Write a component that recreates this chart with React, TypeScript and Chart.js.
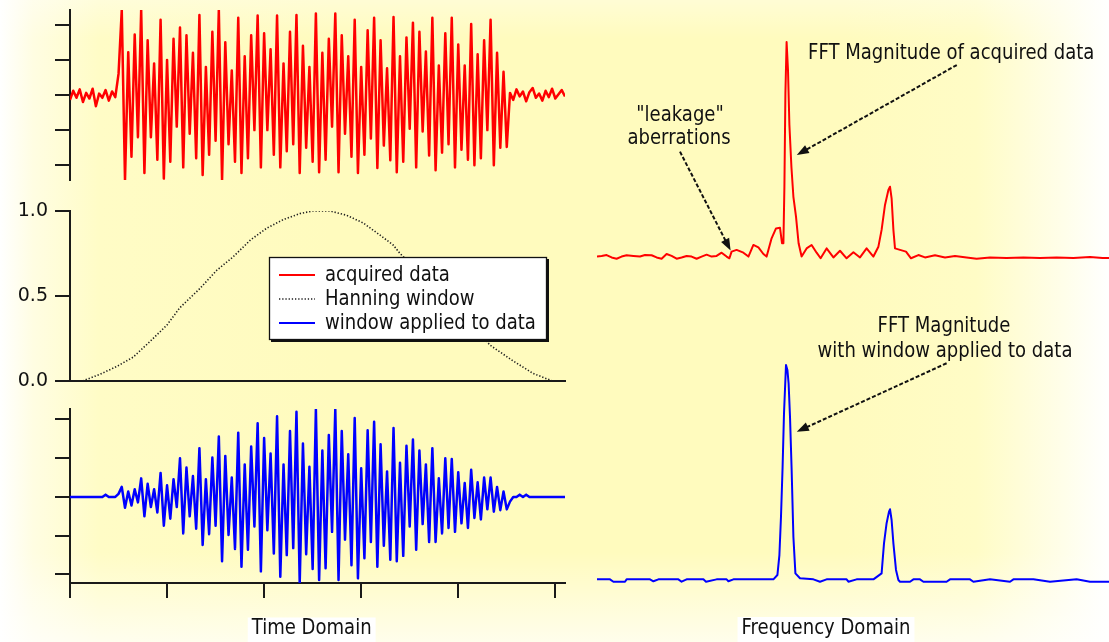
import React, { useEffect, useRef } from "react";
import { Chart, registerables } from "chart.js";

Chart.register(...registerables);

// ---------------- data ----------------
const TIME_STEP = 1 / 30; // time units per sample
const TIME_MAX = 5.1;

// acquired data (red) : one value per sample
const ACQUIRED = [
  -0.07, 0.06, -0.04, 0.08, -0.1, 0.03, -0.05, 0.09, -0.16, 0.02, -0.04, 0.07, -0.08, 0.05, -0.03,
  0.3,
  1.21, -1.21, 0.61, -0.88, 0.86, -0.6,
  1.21, -1.11, 0.78, -0.6, 0.45, -0.92,
  1.07, -1.19, 0.5, -0.95, 0.8, -0.45,
  0.96, -1.03, 0.85, -0.55, 0.6, -0.9,
  1.14, -1.14, 0.4, -0.85, 0.9, -0.65,
  1.21, -1.21, 0.75, -0.7, 0.35, -0.95,
  1.1, -1.11, 0.55, -0.9, 0.85, -0.5,
  1.13, -1.03, 0.88, -0.5, 0.65, -0.85,
  1.13, -1.03, 0.45, -0.8, 0.9, -0.7,
  1.14, -1.11, 0.7, -0.75, 0.4, -0.95,
  1.16, -1.1, 0.6, -0.92, 0.8, -0.45,
  1.16, -1.1, 0.85, -0.55, 0.55, -0.88,
  1.07, -1.11, 0.4, -0.85, 0.92, -0.62,
  1.1, -1.04, 0.78, -0.72, 0.38, -0.93,
  1.11, -1.1, 0.55, -0.95, 0.82, -0.48,
  1.03, -1.03, 0.9, -0.52, 0.62, -0.86,
  1.1, -1.07, 0.42, -0.82, 0.88, -0.7,
  1.1, -1.03, 0.72, -0.78, 0.42, -0.92,
  1.01, -1.0, 0.58, -0.9, 0.78, -0.5,
  1.07, -1.0, 0.6, -0.75, 0.33, -0.74,
  0.03, -0.07, 0.08, -0.02, 0.05, -0.09, 0.04, 0.1, -0.04, 0.02, -0.08, 0.06, -0.03, 0.09, -0.05, 0.01, 0.07, -0.02,
];

// window applied to data (blue)
const WINDOWED = [
  0, 0, 0, 0, 0, 0, 0, 0, 0, 0, 0, 0.03, 0, 0, 0,
  0.04,
  0.13, -0.14, 0.07, -0.11, 0.1, -0.07,
  0.24, -0.25, 0.17, -0.13, 0.1, -0.2,
  0.31, -0.37, 0.15, -0.28, 0.23, -0.13,
  0.5, -0.47, 0.38, -0.25, 0.27, -0.41,
  0.63, -0.62, 0.23, -0.48, 0.51, -0.37,
  0.78, -0.83, 0.53, -0.49, 0.25, -0.67,
  0.83, -0.9, 0.42, -0.68, 0.65, -0.38,
  0.95, -0.96, 0.76, -0.43, 0.56, -0.73,
  1.04, -1.03, 0.42, -0.75, 0.85, -0.66,
  1.1, -1.11, 0.69, -0.74, 0.39, -0.93,
  1.13, -1.07, 0.6, -0.92, 0.8, -0.45,
  1.13, -1.07, 0.85, -0.55, 0.55, -0.88,
  1.02, -1.05, 0.37, -0.79, 0.86, -0.58,
  0.97, -0.9, 0.68, -0.63, 0.33, -0.81,
  0.89, -0.83, 0.44, -0.76, 0.66, -0.38,
  0.74, -0.68, 0.6, -0.35, 0.42, -0.58,
  0.63, -0.58, 0.24, -0.47, 0.5, -0.4,
  0.49, -0.45, 0.32, -0.34, 0.18, -0.4,
  0.35, -0.27, 0.19, -0.29, 0.25, -0.16,
  0.25, -0.19, 0.13, -0.17, 0.07, -0.16,
  -0.06, 0, 0, 0.03, 0, 0.03, 0, 0, 0, 0, 0, 0, 0, 0, 0, 0, 0, 0,
];

// Hanning window (dotted)
const HANN_T = [0.13, 0.31, 0.48, 0.65, 0.82, 1.0, 1.13, 1.34, 1.51, 1.68, 1.86, 2.03, 2.2, 2.37, 2.5, 2.68, 2.85, 3.02, 3.19, 3.33, 3.4, 3.71, 3.92, 4.12, 4.33, 4.56, 4.77, 4.97];
const HANN_W = [0.0, 0.04, 0.085, 0.14, 0.23, 0.33, 0.43, 0.545, 0.65, 0.73, 0.83, 0.9, 0.95, 0.985, 1.0, 1.0, 0.975, 0.93, 0.86, 0.8, 0.75, 0.58, 0.47, 0.34, 0.21, 0.12, 0.045, 0.0];
const HANN_TICKS_STEP = 0.5;

// FFT magnitude of acquired data (red)
const FFT_MAX_BIN = 256;
const FFT_RAW_F = [0, 2.3, 4.8, 7.3, 9.8, 12.3, 14.8, 18.2, 21.5, 24, 27.3, 29.8, 32.3, 34.8, 37.3, 39.8, 42.3, 44.8, 47.3, 49.8, 52.3, 54.8, 57.3, 59.8, 62.3, 64.8, 66.2, 67.3, 69.8, 73.2, 75.7, 78.2, 80.7, 83.2, 84.8, 87.3, 89.5, 91.5, 92.5, 93.2, 93.7, 94.2, 94.8, 95.5, 96.2, 97.2, 98.2, 99.5, 100.8, 102.3, 104.8, 107.3, 109.8, 111.8, 114.8, 118.2, 121.5, 124.8, 128.2, 131.5, 134.8, 138.2, 140.7, 142.3, 144, 145.7, 146.5, 147.3, 148.2, 149, 151.5, 154.5, 157, 160.7, 164, 169, 174, 179, 184.8, 189.8, 196.5, 204.8, 213.2, 221.5, 229.8, 238.2, 246.5, 252.8, 256];
const FFT_RAW_MAG = [0.002, 0.005, 0.009, -0.002, -0.008, 0.002, 0.008, 0.005, 0.002, 0.009, 0.008, -0.002, -0.008, 0.014, 0.005, -0.008, -0.002, 0.005, 0.002, -0.008, 0.002, 0.011, 0.002, 0.005, 0.02, 0.002, -0.006, 0.025, 0.033, 0.02, 0.002, 0.056, 0.045, 0.014, 0.002, 0.087, 0.133, 0.136, 0.064, 0.064, 0.327, 0.761, 1.0, 0.87, 0.614, 0.42, 0.28, 0.188, 0.064, 0.002, 0.04, 0.056, 0.02, -0.006, 0.04, -0.002, 0.029, -0.006, 0.022, -0.002, 0.04, 0.002, 0.048, 0.126, 0.242, 0.312, 0.327, 0.273, 0.126, 0.04, 0.033, 0.025, -0.006, 0.009, -0.002, 0.008, -0.002, 0.005, -0.002, -0.008, -0.002, -0.005, -0.002, -0.005, -0.002, -0.005, 0, -0.005, -0.005];

// FFT magnitude with window applied (blue)
const FFT_WIN_F = [0, 6.5, 8.2, 14, 14.8, 26.5, 28.2, 30.7, 40.7, 42.3, 44.8, 53.2, 54.5, 59.8, 64.8, 65.7, 68.2, 88.2, 90.2, 91.2, 92, 92.8, 93.5, 94.5, 95.2, 95.8, 96.5, 97.3, 98.2, 99.2, 101.5, 108.2, 111.5, 114.8, 124.8, 125.7, 129.8, 138.2, 142.3, 143.5, 144.8, 146, 146.5, 147.3, 148.2, 149.5, 150.7, 151.5, 156.5, 158.2, 161.5, 163.2, 174.8, 176.5, 186.5, 188.2, 196.5, 206.5, 208.2, 218.2, 226.5, 239.8, 246.5, 252.8, 256];
const FFT_WIN_MAG = [0.003, 0.003, -0.008, -0.008, 0.003, 0.003, -0.006, 0.003, 0.003, -0.008, 0.003, 0.003, -0.008, 0.003, 0.003, -0.006, 0.003, 0.003, 0.023, 0.116, 0.295, 0.527, 0.775, 1.0, 0.977, 0.915, 0.76, 0.519, 0.2, 0.031, 0.008, 0.003, -0.008, 0.003, 0.003, -0.008, 0.003, 0.003, 0.031, 0.17, 0.264, 0.318, 0.329, 0.279, 0.17, 0.047, 0, -0.008, -0.008, 0.003, 0.003, -0.008, -0.008, 0.003, 0.003, -0.008, 0.003, -0.008, 0.003, 0.003, -0.008, 0.003, -0.008, -0.008, -0.008];

const LEGEND_LABELS = ["acquired data", "Hanning window", "window applied to data"];
const TIME_TITLE = "Time Domain";
const FREQ_TITLE = "Frequency Domain";

// annotations, in data coordinates of the FFT plots: [text, freq, magnitude, align]
const RAW_NOTES: [string, number, number, CanvasTextAlign][] = [
  ["FFT Magnitude of acquired data", 105.5, 0.949, "left"],
  ['"leakage"', 41.5, 0.66, "center"],
  ["aberrations", 41, 0.553, "center"],
];
const RAW_ARROWS = [
  [179.9, 0.893, 99.9, 0.474],
  [41.5, 0.49, 66.8, 0.03],
];
const WIN_NOTES: [string, number, number, CanvasTextAlign][] = [
  ["FFT Magnitude", 173.5, 1.178, "center"],
  ["with window applied to data", 174, 1.065, "center"],
];
const WIN_ARROWS = [[174.8, 1.008, 99.9, 0.69]];

// ---------------- layout & style ----------------
const W = 1109;
const H = 642;
const FONT_FAMILY = "'DejaVu Sans', 'Liberation Sans', sans-serif";
const TEXT_SIZE = 22;
const TEXT_COLOR = "#111111";
const AXIS_COLOR = "#1a1a1a";
const RED = "#ff0000";
const BLUE = "#0000ff";
const DOT_COLOR = "#1e1e1e";
const SQUEEZE = 0.82;
const TICK_LEN = 15;
const BG =
  "linear-gradient(to bottom, rgba(255,255,255,0.35) 0%, rgba(255,255,255,0) 6%, rgba(255,255,255,0) 86%, rgba(255,255,255,0.7) 100%)," +
  "linear-gradient(to right, #ffffff 0%, #fffde2 3%, #fffcc6 9%, #fffbbe 30%, #fffbbe 76%, #fffcc6 88%, #fffeea 96%, #ffffff 100%)";

const STYLE_RED = { color: RED, width: 2.5, dash: [] as number[] };
const STYLE_DOT = { color: DOT_COLOR, width: 1.6, dash: [1.3, 1.9] };
const STYLE_BLUE = { color: BLUE, width: 2.5, dash: [] as number[] };
const STYLE_RED_FFT = { color: RED, width: 2, dash: [] as number[] };
const STYLE_BLUE_FFT = { color: BLUE, width: 2, dash: [] as number[] };

Chart.defaults.font.family = FONT_FAMILY;
Chart.defaults.color = TEXT_COLOR;

// ---------------- helpers ----------------
const timeSeries = (ys: number[]) => ys.map((v, i) => ({ x: i * TIME_STEP, y: v }));
const pairs = (xs: number[], ys: number[]) => xs.map((v, i) => ({ x: v, y: ys[i] }));

const lineDs = (label: string, data: any[], st: any) => ({
  label,
  data,
  borderColor: st.color,
  borderWidth: st.width,
  borderDash: st.dash,
  borderJoinStyle: "round",
  pointRadius: 0,
  tension: 0,
  fill: false,
});

const tickGrid = (len: number) => ({
  display: true,
  drawOnChartArea: false,
  drawTicks: len > 0,
  tickLength: len,
  color: AXIS_COLOR,
  lineWidth: 2,
});
const axisBorder = { display: true, color: AXIS_COLOR, width: 2 };

function drawText(ctx: CanvasRenderingContext2D, text: string, x: number, y: number, align: CanvasTextAlign) {
  ctx.save();
  ctx.font = `${TEXT_SIZE}px ${FONT_FAMILY}`;
  ctx.fillStyle = TEXT_COLOR;
  ctx.textAlign = align;
  ctx.textBaseline = "middle";
  ctx.translate(x, y);
  ctx.scale(SQUEEZE, 1);
  ctx.fillText(text, 0, 0);
  ctx.restore();
}

function drawArrow(ctx: CanvasRenderingContext2D, x1: number, y1: number, x2: number, y2: number) {
  const ang = Math.atan2(y2 - y1, x2 - x1);
  const head = 12;
  const half = 4.5;
  const c = Math.cos(ang);
  const s = Math.sin(ang);
  ctx.save();
  ctx.strokeStyle = TEXT_COLOR;
  ctx.lineWidth = 2;
  ctx.setLineDash([4, 2]);
  ctx.beginPath();
  ctx.moveTo(x1, y1);
  ctx.lineTo(x2 - head * 0.8 * c, y2 - head * 0.8 * s);
  ctx.stroke();
  ctx.setLineDash([]);
  ctx.fillStyle = TEXT_COLOR;
  ctx.beginPath();
  ctx.moveTo(x2, y2);
  ctx.lineTo(x2 - head * c + half * s, y2 - head * s - half * c);
  ctx.lineTo(x2 - head * c - half * s, y2 - head * s + half * c);
  ctx.closePath();
  ctx.fill();
  ctx.restore();
}

const notesPlugin = (id: string, notes: any[], arrows: number[][]) => ({
  id,
  afterDraw(chart: any) {
    const { ctx } = chart;
    const { x, y } = chart.scales;
    arrows.forEach((a) =>
      drawArrow(ctx, x.getPixelForValue(a[0]), y.getPixelForValue(a[1]), x.getPixelForValue(a[2]), y.getPixelForValue(a[3]))
    );
    notes.forEach((n) => drawText(ctx, n[0], x.getPixelForValue(n[1]), y.getPixelForValue(n[2]), n[3]));
  },
});

const axisTitlePlugin = (id: string, text: string, xValue: number, fromBottom: number) => ({
  id,
  afterDraw(chart: any) {
    const { ctx } = chart;
    const cx = chart.scales.x.getPixelForValue(xValue);
    const cy = chart.height - fromBottom;
    ctx.save();
    ctx.font = `${TEXT_SIZE}px ${FONT_FAMILY}`;
    const w = ctx.measureText(text).width * SQUEEZE;
    ctx.fillStyle = "#ffffff";
    const top = cy - 11;
    ctx.fillRect(cx - w / 2 - 4, top, w + 8, chart.height - top);
    ctx.restore();
    drawText(ctx, text, cx, cy, "center");
  },
});

// legend box anchored in the Hanning plot's data coordinates
const LEGEND_BOX = { t0: 2.05, w0: 0.729, t1: 4.915, w1: 0.241 };
const legendPlugin = {
  id: "boxLegend",
  afterDraw(chart: any) {
    const { ctx } = chart;
    const { x, y } = chart.scales;
    const l = Math.round(x.getPixelForValue(LEGEND_BOX.t0));
    const r = Math.round(x.getPixelForValue(LEGEND_BOX.t1));
    const t = Math.round(y.getPixelForValue(LEGEND_BOX.w0));
    const b = Math.round(y.getPixelForValue(LEGEND_BOX.w1));
    const w = r - l;
    const h = b - t;
    ctx.save();
    ctx.fillStyle = TEXT_COLOR;
    ctx.fillRect(l + 2, t + 2, w, h);
    ctx.fillStyle = "#ffffff";
    ctx.fillRect(l, t, w, h);
    ctx.strokeStyle = TEXT_COLOR;
    ctx.lineWidth = 1.3;
    ctx.strokeRect(l + 0.5, t + 0.5, w - 1, h - 1);
    const styles = [
      { ...STYLE_RED, width: 2 },
      STYLE_DOT,
      { ...STYLE_BLUE, width: 2 },
    ];
    LEGEND_LABELS.forEach((label, i) => {
      const yy = t + 18 + 24 * i;
      const st = styles[i];
      ctx.save();
      ctx.strokeStyle = st.color;
      ctx.lineWidth = st.width;
      ctx.setLineDash(st.dash);
      ctx.beginPath();
      ctx.moveTo(l + 10, yy);
      ctx.lineTo(l + 46, yy);
      ctx.stroke();
      ctx.restore();
      drawText(ctx, label, l + 56, yy, "left");
    });
    ctx.restore();
  },
};

const baseOptions = (padding: any, scales: any) => ({
  responsive: false,
  animation: false,
  events: [],
  layout: { padding },
  plugins: { legend: { display: false }, tooltip: { enabled: false }, title: { display: false } },
  scales,
});

const hiddenTimeX = { type: "linear", min: 0, max: TIME_MAX, display: false };

function acquiredConfig() {
  return {
    type: "line",
    data: { datasets: [lineDs(LEGEND_LABELS[0], timeSeries(ACQUIRED), STYLE_RED)] },
    options: baseOptions(
      { left: 70 - TICK_LEN, right: W - 565, top: 10, bottom: H - 180 },
      {
        x: hiddenTimeX,
        y: {
          type: "linear",
          min: -1.21,
          max: 1.21,
          ticks: { display: false, stepSize: 0.5, includeBounds: false },
          grid: tickGrid(TICK_LEN),
          border: axisBorder,
          afterFit: (s: any) => {
            s.width = TICK_LEN;
          },
        },
      }
    ),
  };
}

function hannConfig() {
  return {
    type: "line",
    data: { datasets: [lineDs(LEGEND_LABELS[1], pairs(HANN_T, HANN_W), STYLE_DOT)] },
    options: baseOptions(
      { left: 0, right: W - 565, top: 211, bottom: H - 381 },
      {
        x: {
          type: "linear",
          min: 0,
          max: TIME_MAX,
          ticks: { display: false },
          grid: tickGrid(0),
          border: axisBorder,
          afterFit: (s: any) => {
            s.height = 0;
          },
        },
        y: {
          type: "linear",
          min: 0,
          max: 1,
          ticks: {
            stepSize: HANN_TICKS_STEP,
            padding: 7,
            color: TEXT_COLOR,
            font: { size: 19, family: FONT_FAMILY },
            callback: (v: any) => Number(v).toFixed(1),
          },
          grid: tickGrid(TICK_LEN),
          border: axisBorder,
          afterFit: (s: any) => {
            s.width = 70;
          },
        },
      }
    ),
    plugins: [legendPlugin],
  };
}

function windowedConfig() {
  return {
    type: "line",
    data: { datasets: [lineDs(LEGEND_LABELS[2], timeSeries(WINDOWED), STYLE_BLUE)] },
    options: baseOptions(
      { left: 70 - TICK_LEN, right: W - 565, top: 409, bottom: H - 583 - TICK_LEN },
      {
        x: {
          type: "linear",
          min: 0,
          max: TIME_MAX,
          ticks: { display: false, stepSize: 1, includeBounds: false },
          grid: tickGrid(TICK_LEN),
          border: axisBorder,
          afterFit: (s: any) => {
            s.height = TICK_LEN;
          },
        },
        y: {
          type: "linear",
          min: -1.11,
          max: 1.135,
          ticks: { display: false, stepSize: 0.5, includeBounds: false },
          grid: tickGrid(TICK_LEN),
          border: axisBorder,
          afterFit: (s: any) => {
            s.width = TICK_LEN;
          },
        },
      }
    ),
    plugins: [axisTitlePlugin("timeTitle", TIME_TITLE, 2.49, 13.5)],
  };
}

function fftConfig(label: string, xs: number[], ys: number[], st: any, top: number, bottom: number, plugins: any[]) {
  return {
    type: "line",
    data: { datasets: [lineDs(label, pairs(xs, ys), st)] },
    options: baseOptions(
      { left: 597, right: 0, top, bottom: H - bottom },
      {
        x: { type: "linear", min: 0, max: FFT_MAX_BIN, display: false },
        y: { type: "linear", min: -0.05, max: 1.05, display: false },
      }
    ),
    plugins,
  };
}

export default function App() {
  const canvases = useRef<(HTMLCanvasElement | null)[]>([]);

  useEffect(() => {
    const configs = [
      acquiredConfig(),
      hannConfig(),
      windowedConfig(),
      fftConfig("FFT magnitude of acquired data", FFT_RAW_F, FFT_RAW_MAG, STYLE_RED_FFT, 31.25, 267.75, [
        notesPlugin("rawNotes", RAW_NOTES, RAW_ARROWS),
      ]),
      fftConfig("FFT magnitude with window applied", FFT_WIN_F, FFT_WIN_MAG, STYLE_BLUE_FFT, 354.25, 590.75, [
        notesPlugin("winNotes", WIN_NOTES, WIN_ARROWS),
        axisTitlePlugin("freqTitle", FREQ_TITLE, 114.5, 14),
      ]),
    ];
    const charts = configs.map(
      (cfg, i) => new Chart(canvases.current[i] as HTMLCanvasElement, cfg as any)
    );
    return () => charts.forEach((c) => c.destroy());
  }, []);

  return (
    <div
      style={{
        position: "absolute",
        left: 0,
        top: 0,
        width: W,
        height: H,
        overflow: "hidden",
        background: BG,
      }}
    >
      {[0, 1, 2, 3, 4].map((i) => (
        <canvas
          key={i}
          ref={(el) => {
            canvases.current[i] = el;
          }}
          width={W}
          height={H}
          style={{ position: "absolute", left: 0, top: 0 }}
        />
      ))}
    </div>
  );
}
